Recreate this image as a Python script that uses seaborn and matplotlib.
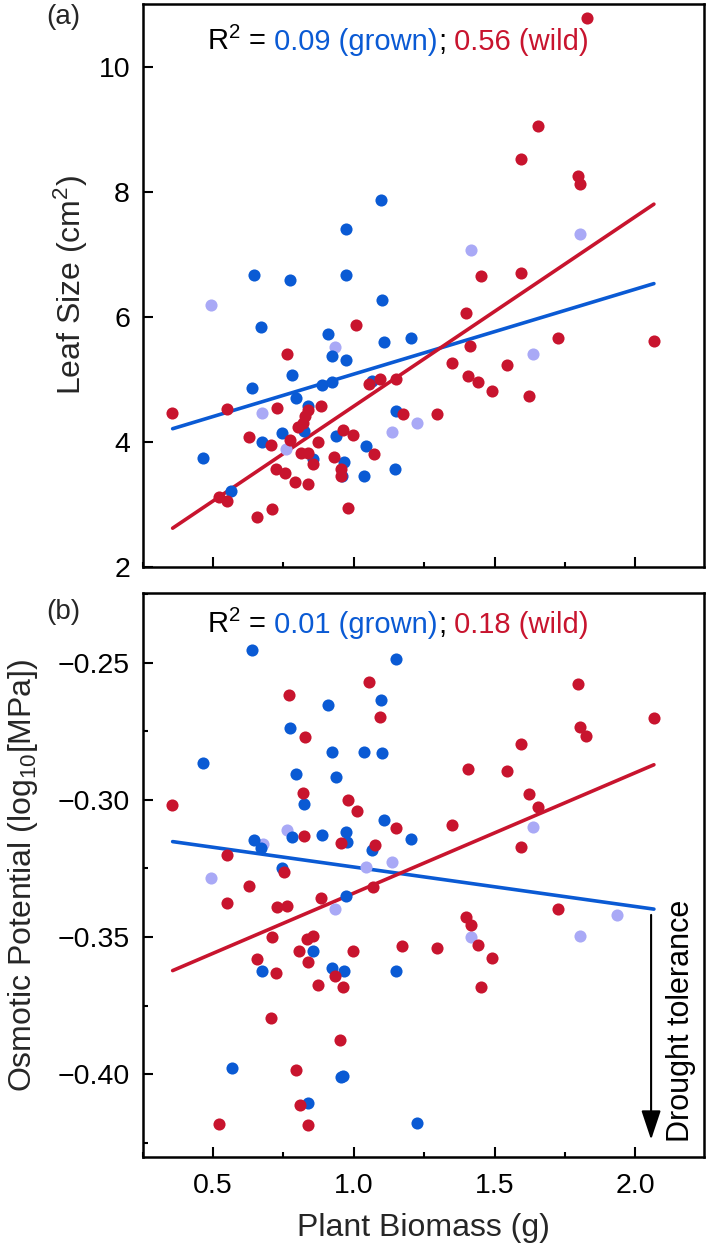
import numpy as np
import pandas as pd
import matplotlib
matplotlib.use('Agg')
import matplotlib.pyplot as plt
from matplotlib.ticker import MultipleLocator
import seaborn as sns

# ─────────────────────────────────────────
# DATA
# ─────────────────────────────────────────
# panel (a): leaf size vs plant biomass
grown_mass_a = [1.097, 0.972, 0.647, 0.774, 0.972, 1.099, 0.670, 0.910, 1.108, 1.203,
                0.924, 0.972, 0.780, 0.640, 0.888, 0.922, 1.066, 0.794, 0.839, 1.149,
                0.825, 0.744, 0.673, 0.936, 1.044, 0.466, 0.854, 0.966, 0.957, 1.037,
                1.147, 0.563]
grown_leaf = [7.86, 7.41, 6.67, 6.59, 6.67, 6.27, 5.84, 5.73, 5.59, 5.66,
              5.38, 5.31, 5.07, 4.86, 4.91, 4.95, 4.97, 4.70, 4.58, 4.50,
              4.17, 4.14, 4.00, 4.10, 3.94, 3.74, 3.72, 3.67, 3.45, 3.45,
              3.57, 3.22]
pale_mass_a = [1.804, 1.417, 0.492, 0.934, 0.675, 1.224, 0.760, 1.135, 1.636]
pale_leaf = [7.33, 7.07, 6.18, 5.51, 4.46, 4.30, 3.89, 4.15, 5.40]
wild_mass_a = [1.827, 1.653, 1.594, 1.798, 1.804, 1.452, 1.593, 1.008, 0.764, 1.055,
               1.093, 1.149, 0.356, 0.549, 0.729, 0.839, 0.827, 0.821, 0.803, 0.883,
               1.174, 0.628, 0.705, 0.774, 0.872, 0.963, 0.999, 1.072, 0.812, 0.839,
               0.854, 0.931, 0.954, 0.954, 0.723, 0.756, 0.792, 0.839, 0.523, 0.549,
               0.709, 0.656, 0.981, 1.399, 1.724, 2.066, 1.413, 1.348, 1.545, 1.407,
               1.440, 1.492, 1.623, 1.297]
wild_leaf = [10.78, 9.05, 8.53, 8.25, 8.13, 6.65, 6.70, 5.87, 5.41, 4.92,
             5.00, 5.00, 4.46, 4.53, 4.54, 4.51, 4.41, 4.30, 4.23, 4.58,
             4.44, 4.08, 3.95, 4.03, 3.99, 4.19, 4.11, 3.80, 3.82, 3.82,
             3.64, 3.76, 3.56, 3.46, 3.56, 3.51, 3.36, 3.32, 3.12, 3.05,
             2.92, 2.80, 2.94, 6.06, 5.66, 5.62, 5.54, 5.26, 5.23, 5.05,
             4.95, 4.81, 4.74, 4.45]

# panel (b): osmotic potential vs plant biomass
grown_mass_b = [0.640, 1.149, 0.910, 1.097, 0.774, 0.466, 0.922, 1.037, 1.099, 0.794,
                0.936, 0.824, 1.108, 1.203, 0.780, 0.888, 0.972, 0.975, 0.647, 0.670,
                1.066, 0.744, 0.972, 0.854, 0.673, 0.922, 0.966, 1.149, 0.567, 0.954,
                0.961, 0.839, 1.226]
grown_osm = [-0.2454, -0.2487, -0.2654, -0.2636, -0.2739, -0.2866, -0.2826, -0.2826, -0.2830, -0.2905,
             -0.2915, -0.3014, -0.3075, -0.3143, -0.3137, -0.3127, -0.3117, -0.3152, -0.3146, -0.3176,
             -0.3184, -0.3249, -0.3349, -0.3549, -0.3625, -0.3613, -0.3625, -0.3625, -0.3977, -0.4011,
             -0.4007, -0.4104, -0.4176]
pale_mass_b = [0.762, 0.679, 1.044, 1.135, 0.493, 0.934, 1.638, 1.936, 1.417, 1.804]
pale_osm = [-0.3109, -0.3161, -0.3243, -0.3227, -0.3283, -0.3398, -0.3097, -0.3421, -0.3501, -0.3495]
wild_mass_b = [1.055, 0.771, 1.093, 0.827, 0.821, 0.356, 0.981, 1.011, 1.149, 1.798,
               2.066, 1.804, 1.825, 1.594, 1.407, 1.545, 1.623, 1.653, 1.348, 0.824,
               0.954, 1.076, 0.549, 0.754, 0.628, 1.070, 0.883, 0.549, 0.729, 0.764,
               0.709, 0.833, 0.857, 1.173, 0.806, 0.999, 0.658, 0.839, 0.723, 0.934,
               0.872, 0.961, 0.705, 0.951, 0.794, 0.809, 0.523, 0.837, 1.593, 1.724,
               1.399, 1.415, 1.440, 1.297, 1.492, 1.452]
wild_osm = [-0.2571, -0.2618, -0.2697, -0.2772, -0.2975, -0.3018, -0.3000, -0.3039, -0.3103, -0.2578,
            -0.2700, -0.2733, -0.2766, -0.2797, -0.2888, -0.2894, -0.2978, -0.3026, -0.3091, -0.3133,
            -0.3158, -0.3166, -0.3200, -0.3263, -0.3312, -0.3316, -0.3358, -0.3374, -0.3391, -0.3386,
            -0.3498, -0.3507, -0.3495, -0.3531, -0.3549, -0.3550, -0.3580, -0.3592, -0.3629, -0.3641,
            -0.3676, -0.3683, -0.3795, -0.3876, -0.3983, -0.4113, -0.4182, -0.4184, -0.3170, -0.3397,
            -0.3425, -0.3455, -0.3530, -0.3540, -0.3576, -0.3683]

# fitted lines (end points)
fit_mass = [0.357, 2.066]
fit_leaf_grown = [4.21, 6.53]
fit_leaf_wild = [2.62, 7.80]
fit_osm_grown = [-0.3152, -0.3398]
fit_osm_wild = [-0.3622, -0.2872]

r2_grown = ['0.09', '0.01']
r2_wild = ['0.56', '0.18']

# ─────────────────────────────────────────
# STYLE
# ─────────────────────────────────────────
sns.set_style('ticks')
plt.rcParams['font.family'] = ['Liberation Sans', 'DejaVu Sans']
plt.rcParams['mathtext.default'] = 'regular'
plt.rcParams['axes.unicode_minus'] = True

BLUE = '#0a5ad4'
PALE = '#a9a9f6'
RED = '#c8142e'

fig = plt.figure(figsize=(7.09, 12.51), dpi=100)
ax1 = fig.add_axes([0.2010, 0.5468, 0.7920, 0.4500])
ax2 = fig.add_axes([0.2010, 0.0754, 0.7920, 0.4504])


def draw_panel(ax, pale, grown, wild, fit_g, fit_w):
    sns.lineplot(x=fit_mass, y=fit_g, color=BLUE, lw=2.6, ax=ax, zorder=2)
    sns.lineplot(x=fit_mass, y=fit_w, color=RED, lw=2.6, ax=ax, zorder=2)
    for (xs, ys), col in [(pale, PALE), (grown, BLUE), (wild, RED)]:
        df = pd.DataFrame({'mass': xs, 'val': ys})
        sns.scatterplot(data=df, x='mass', y='val', color=col, s=76,
                        linewidth=0, ax=ax, zorder=3, legend=False)
    ax.set_xlim(0.25, 2.244)
    ax.xaxis.set_major_locator(MultipleLocator(0.5))
    ax.xaxis.set_minor_locator(MultipleLocator(0.25))
    for sp in ax.spines.values():
        sp.set_visible(True)
        sp.set_linewidth(1.8)
        sp.set_color('black')
    ax.tick_params(which='both', direction='in', width=1.5, colors='black',
                   top=False, right=False, labelsize=20.5)
    ax.tick_params(which='major', length=7)
    ax.tick_params(which='minor', length=3.5)
    ax.tick_params(axis='x', pad=12)
    ax.tick_params(axis='y', pad=9)


def r2_text(ax, y, g, w):
    t = ax.text(0.1154, y, 'R$^2$ =', transform=ax.transAxes, fontsize=21,
                color='black', ha='left', va='baseline')
    for s, c in [(f' {g} (grown)', BLUE), (';', 'black'), (f' {w} (wild)', RED)]:
        t = ax.annotate(s, xy=(1, 0), xycoords=t, ha='left', va='bottom',
                        fontsize=21, color=c)


# ── (a) Leaf size
draw_panel(ax1, (pale_mass_a, pale_leaf), (grown_mass_a, grown_leaf),
           (wild_mass_a, wild_leaf), fit_leaf_grown, fit_leaf_wild)
ax1.set_ylim(2, 11)
ax1.yaxis.set_major_locator(MultipleLocator(2))
ax1.tick_params(axis='x', labelbottom=False)
ax1.set_xlabel('')
ax1.set_ylabel('Leaf Size (cm$^2$)', fontsize=23)
ax1.yaxis.set_label_coords(-0.0935, 0.5)
r2_text(ax1, 0.918, r2_grown[0], r2_wild[0])

# ── (b) Osmotic potential
draw_panel(ax2, (pale_mass_b, pale_osm), (grown_mass_b, grown_osm),
           (wild_mass_b, wild_osm), fit_osm_grown, fit_osm_wild)
ax2.set_ylim(-0.43, -0.2247)
ax2.yaxis.set_major_locator(MultipleLocator(0.05))
ax2.yaxis.set_minor_locator(MultipleLocator(0.025))
ax2.set_xlabel('Plant Biomass (g)', fontsize=23)
ax2.xaxis.set_label_coords(0.5, -0.10)
ax2.set_ylabel('Osmotic Potential (log$_{10}$[MPa])', fontsize=23)
ax2.yaxis.set_label_coords(-0.1825, 0.5)
r2_text(ax2, 0.929, r2_grown[1], r2_wild[1])

# drought tolerance arrow
ax2.annotate('', xy=(2.056, -0.4238), xytext=(2.056, -0.3419),
             arrowprops=dict(arrowstyle='-|>,head_length=0.75,head_width=0.25',
                             mutation_scale=24, color='black', lw=1.5,
                             shrinkA=0, shrinkB=0))
ax2.text(2.162, -0.3804, 'Drought tolerance', rotation=90, ha='center',
         va='center', fontsize=22, color='black')

fig.text(63 / 709, 1 - 17 / 1251, '(a)', ha='center', va='center', fontsize=20)
fig.text(63 / 709, 1 - 612 / 1251, '(b)', ha='center', va='center', fontsize=20)

fig.savefig('out.png', dpi=100, facecolor='white')
